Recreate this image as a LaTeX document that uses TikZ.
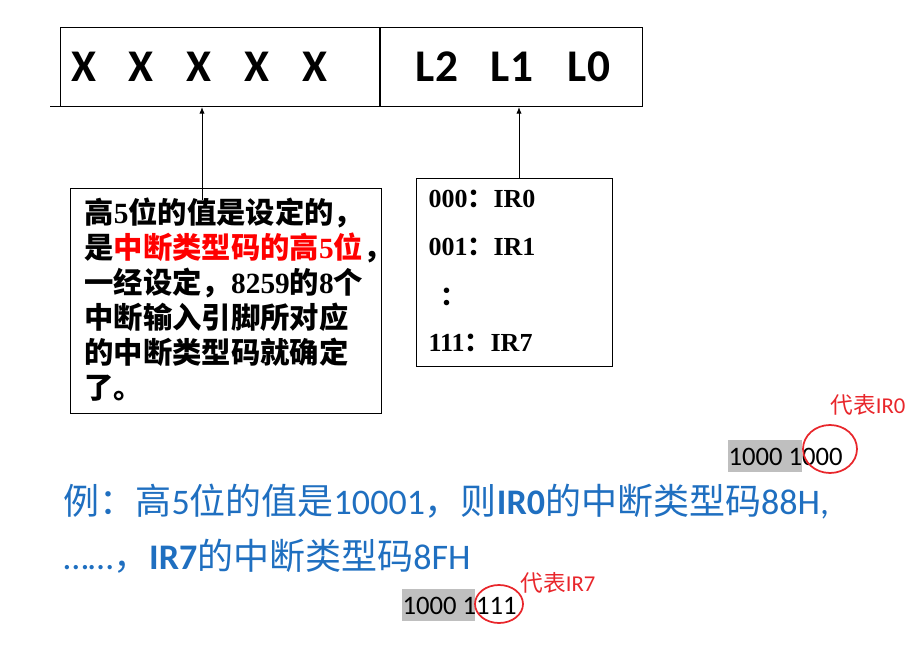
\documentclass[tikz,border=0pt]{standalone}
\usepackage{fontspec}
\setmainfont{Liberation Serif}
\newfontfamily\zhfont{Noto Sans CJK SC}
\newfontfamily\calfont{Carlito}
\usetikzlibrary{arrows.meta}
\definecolor{icwBlue}{HTML}{1F6FC0}
\definecolor{icwRed}{HTML}{FF0000}
\definecolor{icwMark}{HTML}{E8262B}
\definecolor{icwShade}{HTML}{BFBFBF}
\newcommand{\tm}[1]{{\rmfamily\bfseries #1}}
\newcommand{\cl}[1]{{\calfont #1}}

\begin{document}
\begin{tikzpicture}[x=0.75pt, y=-0.75pt, line width=0.75pt,
  bitfield/.style={draw, anchor=north west, minimum height=59.25pt, inner sep=0pt},
  bitname/.style={inner sep=0pt, font=\calfont\bfseries\fontsize{34}{34}\selectfont},
  codeline/.style={anchor=west, inner sep=0pt, font=\rmfamily\bfseries\fontsize{19.5}{19.5}\selectfont},
  example/.style={anchor=west, inner sep=0pt, text=icwBlue, font=\zhfont\fontsize{27}{27}\selectfont},
  remark/.style={anchor=west, inner sep=0pt, text=icwMark, font=\zhfont\fontsize{17}{17}\selectfont},
  pointer/.style={-{Latex[length=5pt,width=4pt]}}]
\useasboundingbox (0,0) rectangle (907,645);
% ICW2 register
\node[bitfield, minimum width=239.25pt] (hibits) at (60,27) {};
\node[bitfield, minimum width=196.5pt] (lobits) at (hibits.north east) {};
\draw (hibits.south west) -- ++(-10,0);
\foreach \xx [count=\i] in {84,141,199,257,315}
  \node[bitname] (x\i) at (\xx,67) {X};
\foreach \xx/\lbl in {437/2,512/1,589/0}
  \node[bitname] (l\lbl) at (\xx,67) {L\lbl};
% note on the high five bits
\node[draw, anchor=north west, minimum width=233.25pt, minimum height=168.75pt] (hinote) at (70,188) {};
\node[anchor=west, align=left, inner sep=0pt,
  font=\zhfont\bfseries\fontsize{22}{26.25}\selectfont] (hitext) at (84,300)
  {高\tm{5}位的值是设定的，\\
   是\textcolor{icwRed}{中断类型码的高\tm{5}位}，\\
   一经设定，\tm{8259}的\tm{8}个\\
   中断输入引脚所对应\\
   的中断类型码就确定\\
   了。};
% IR code table
\node[draw, anchor=north west, minimum width=147pt, minimum height=141pt] (lonote) at (416,178) {};
\foreach \code/\irq/\yy in {000/0/199, 001/1/247, 111/7/343}
  \node[codeline] (ir\irq) at (428,\yy) {\code{\zhfont\bfseries ：}IR\irq};
\node[codeline] (irdots) at (440,297) {\zhfont\bfseries ：};
% pointers
\coordinate (hifoot) at (202,200);
\coordinate (lofoot) at (519,178);
\draw[pointer] (hifoot) -- (hifoot |- hibits.south);
\draw[pointer] (lofoot) -- (lofoot |- lobits.south);
% example
\node[example] (exone) at (63,502)
  {例：高\cl{5}位的值是\cl{10001}，则\cl{\bfseries IR0}的中断类型码\cl{88H,}};
\node[example] (extwo) at (63,556)
  {\cl{……}，\cl{\bfseries IR7}的中断类型码\cl{8FH}};
% type codes
\fill[icwShade] (728,440) rectangle (802,472);
\node[anchor=west, inner sep=0pt, font=\calfont\fontsize{20}{20}\selectfont] (typezero) at (728,457) {1000 1000};
\draw[icwMark, line width=1.3pt] (830,449) ellipse [x radius=27, y radius=24];
\node[remark] (markzero) at (830,405) {代表\cl{IR0}};
\fill[icwShade] (402,589) rectangle (475,621);
\node[anchor=west, inner sep=0pt, font=\calfont\fontsize{20}{20}\selectfont] (typeseven) at (402,606) {1000 1111};
\draw[icwMark, line width=1.3pt] (499,604) ellipse [x radius=24, y radius=19];
\node[remark] (markseven) at (520,583) {代表\cl{IR7}};
\end{tikzpicture}
\end{document}
